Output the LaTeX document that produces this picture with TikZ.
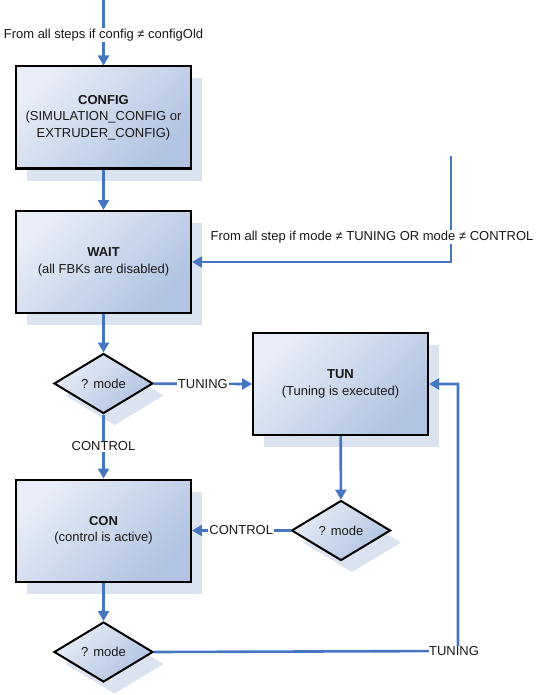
\documentclass[tikz,border=0pt]{standalone}
\usepackage{fontspec}
\setmainfont{Liberation Sans}
\usetikzlibrary{arrows.meta,shapes.geometric,shadows}
\definecolor{boxlight}{RGB}{232,237,247}
\definecolor{boxdark}{RGB}{176,195,225}
\definecolor{shadowc}{RGB}{219,227,241}
\definecolor{flow}{RGB}{70,118,194}
\definecolor{labelc}{RGB}{25,25,25}
\tikzset{
  shaded/.style={top color=boxlight, bottom color=boxdark, shading angle=45,
    draw=black, line width=2pt,
    drop shadow={shadow xshift=11pt, shadow yshift=-12pt, fill=shadowc, opacity=1}},
  state/.style={shaded, rectangle, minimum width=175pt, minimum height=102pt,
    align=center, font=\fontsize{13}{16.5}\selectfont, text=labelc},
  test/.style={shaded, diamond, minimum width=99pt, minimum height=60pt,
    inner sep=0pt, font=\fontsize{13}{15}\selectfont, text=labelc},
  arr/.style={draw=flow, line width=2.6pt, -{Triangle[length=10pt,width=11pt]}},
  lbl/.style={fill=white, inner sep=1pt, font=\fontsize{13}{15}\selectfont, text=labelc},
}
\begin{document}
\begin{tikzpicture}[x=1pt, y=-1pt]
\useasboundingbox (0,0) rectangle (539,695);

% states
\node[state] (config) at (103.5,117.5) {\textbf{CONFIG}\\(SIMULATION\_CONFIG or\\EXTRUDER\_CONFIG)};
\node[state] (wait) at (103.5,262) {\textbf{WAIT}\\(all FBKs are disabled)};
\node[state] (tun) at (340.5,384) {\textbf{TUN}\\(Tuning is executed)};
\node[state] (con) at (103.5,530.5) {\textbf{CON}\\(control is active)};

% decisions
\node[test] (d1) at (103.5,383.5) {? mode};
\node[test] (d2) at (341,530.5) {? mode};
\node[test] (d3) at (103.5,652) {? mode};

% free ends of the incoming transitions
\coordinate (cfgin) at (103.5,0);
\coordinate (modein) at (451,156);
\coordinate (tunturn) at (458,651);

% transitions
\draw[arr] (cfgin) -- (config.north)
  node[lbl, pos=0.53] (lcfg) {From all steps if config ≠ configOld};
\draw[arr] (config) -- (wait);
\draw[arr] (modein) |- (wait.east);
\node[lbl] (lmode) at (372,237) {From all step if mode ≠ TUNING OR mode ≠ CONTROL};
\draw[arr] (wait) -- (d1);
\draw[arr] (d1) -- (tun.west) node[lbl, midway] (lt1) {TUNING};
\draw[arr] (d1) -- (con) node[lbl, midway] (lc1) {CONTROL};
\draw[arr] (tun) -- (d2);
\draw[arr] (d2) -- (con.east) node[lbl, midway] (lc2) {CONTROL};
\draw[arr] (con) -- (d3);
\draw[arr] (d3.east) -- (tunturn) |- (tun.east);
\node[lbl, inner sep=0.5pt] (lt2) at (454,651) {TUNING};
\end{tikzpicture}
\end{document}
